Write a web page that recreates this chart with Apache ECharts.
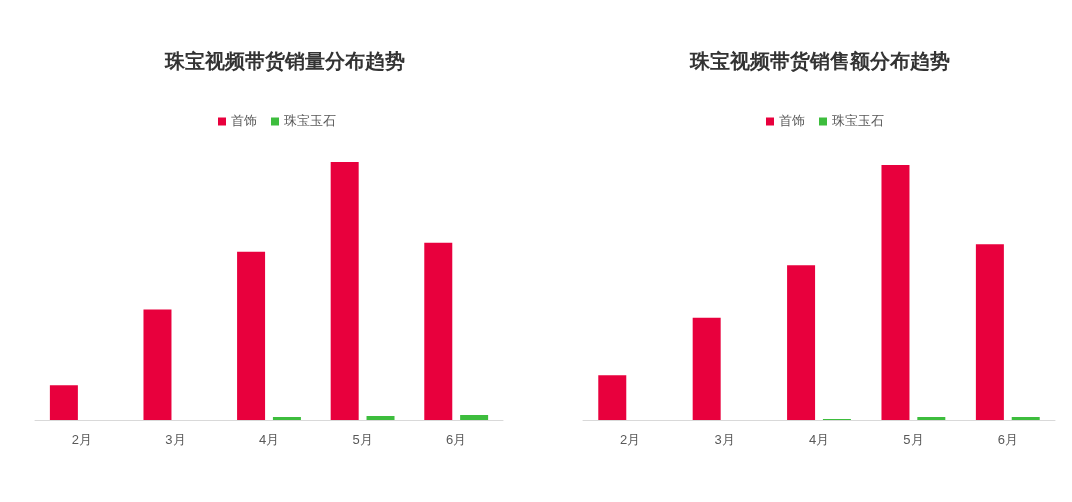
<!DOCTYPE html><html><head><meta charset="utf-8"><script src="https://cdn.jsdelivr.net/npm/echarts@6/dist/echarts.min.js"></script></head><body style="margin:0"><div id="c" style="width:1072px;height:502px"></div><script>
const categories=['2月','3月','4月','5月','6月'];
const volJewelry=[35,111,169,259,178];
const volJade=[0,0,3,4,5];
const amtJewelry=[45,103,156,257,177];
const amtJade=[0,0,1,3,3];
const c=echarts.init(document.getElementById('c'));
const red='#e8003d',green='#3dbd3d';
const ax=(i)=>({type:'category',gridIndex:i,data:categories,axisTick:{show:false},axisLine:{lineStyle:{color:'#d9d9d9'}},axisLabel:{color:'#595959',fontSize:13,margin:14}});
const ya=(i)=>({type:'value',gridIndex:i,min:0,max:260,show:false,splitLine:{show:false}});
const ser=(n,d,col,i)=>({name:n,type:'bar',xAxisIndex:i,yAxisIndex:i,data:d,itemStyle:{color:col},barWidth:28,barGap:'28%'});
c.setOption({animation:false,
title:[{text:'珠宝视频带货销量分布趋势',left:280,top:47,textAlign:'center',textStyle:{fontSize:20,fontWeight:'bold',color:'#333'}},
{text:'珠宝视频带货销售额分布趋势',left:815,top:47,textAlign:'center',textStyle:{fontSize:20,fontWeight:'bold',color:'#333'}}],
legend:[{data:['首饰','珠宝玉石'],left:213,top:110,icon:'rect',itemWidth:8,itemHeight:8,itemGap:14,textStyle:{color:'#595959',fontSize:13}},
{data:['首饰','珠宝玉石'],left:761,top:110,icon:'rect',itemWidth:8,itemHeight:8,itemGap:14,textStyle:{color:'#595959',fontSize:13}}],
grid:[{left:35,width:468,top:161,bottom:82},{left:583,width:472,top:162,bottom:82}],
xAxis:[ax(0),ax(1)],yAxis:[ya(0),ya(1)],
series:[ser('首饰',volJewelry,red,0),ser('珠宝玉石',volJade,green,0),ser('首饰',amtJewelry,red,1),ser('珠宝玉石',amtJade,green,1)]});
</script></body></html>
